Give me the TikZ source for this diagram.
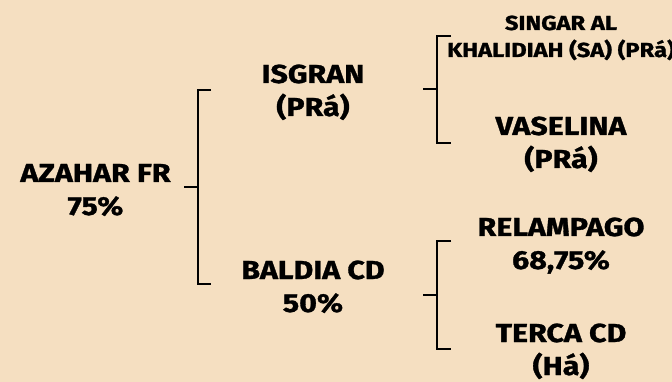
\documentclass[tikz,border=0pt]{standalone}
\usepackage{fontspec}
\setmainfont{Fira Sans}[UprightFont=* Bold, FakeStretch=1.17, FakeBold=1.2]
\begin{document}
\begin{tikzpicture}[x=1pt,y=-1pt,
  lbl/.style={font=\fontsize{26}{33}\selectfont, align=center, anchor=base, inner sep=0pt, text=black},
  slbl/.style={font=\fontsize{20.3}{27}\selectfont, align=center, anchor=base, inner sep=0pt, text=black},
  brk/.style={line width=2pt, black}]
\definecolor{bgc}{HTML}{F5DFC1}
\fill[bgc] (0,0) rectangle (672,382);
\useasboundingbox (0,0) rectangle (672,382);
\node[lbl] (azahar) at (95.5,215) {AZAHAR FR\\75\%};
\node[lbl] (isgran) at (313,116) {ISGRAN\\(PRá)};
\node[lbl] (baldia) at (313,312) {BALDIA CD\\50\%};
\node[slbl] (singar) at (561,57) {SINGAR AL\\KHALIDIAH (SA) (PRá)};
\node[lbl] (vaselina) at (561,168) {VASELINA\\(PRá)};
\node[lbl] (relampago) at (561,269) {RELAMPAGO\\68,75\%};
\node[lbl] (terca) at (561,375) {TERCA CD\\(Há)};
\coordinate (a1) at (184,187);
\coordinate (a2) at (198,187);
\draw[brk] (a1) -- (a2);
\draw[brk] (211,90) -- (198,90) -- (198,284) -- (211,284);
\coordinate (b1) at (423,89.5);
\coordinate (b2) at (437,89.5);
\draw[brk] (b1) -- (b2);
\draw[brk] (451,36) -- (437,36) -- (437,143) -- (451,143);
\coordinate (c1) at (423,295);
\coordinate (c2) at (437,295);
\draw[brk] (c1) -- (c2);
\draw[brk] (451,241) -- (437,241) -- (437,349) -- (451,349);
\end{tikzpicture}
\end{document}
